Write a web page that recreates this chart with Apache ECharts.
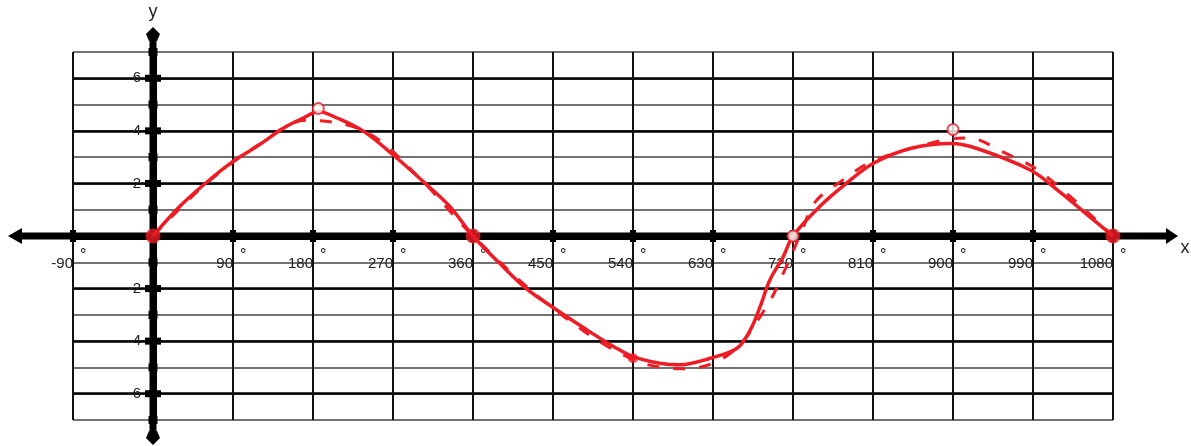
<!DOCTYPE html>
<html>
<head>
<meta charset="utf-8">
<script src="https://cdn.jsdelivr.net/npm/echarts@6/dist/echarts.min.js"></script>
<style>
html,body{margin:0;padding:0;background:#fff;}
#chart{width:1191px;height:446px;}
</style>
</head>
<body>
<div id="chart"></div>
<script>
// ---- data ----
const xTickLabels = ['-90','90','180','270','360','450','540','630','720','810','900','990','1080'];
const yTickLabels = ['-6','-4','-2','2','4','6'];

// solid hand-drawn curve
const curveX = [0,30,57,90,117,147,169,186,207,237,270,304,334,360,390,420,450,488,518,540,570,593,627,657,672,683,694,709,720,750,780,810,852,898,927,987,1020,1054,1080];
const curveY = [0,1.12,1.95,2.84,3.41,4.11,4.49,4.74,4.49,3.98,3.09,2.07,1.12,0,-1.04,-2.0,-2.72,-3.57,-4.2,-4.59,-4.84,-4.9,-4.65,-4.27,-3.57,-2.69,-1.67,-0.79,0,1.12,2.0,2.76,3.33,3.52,3.33,2.51,1.68,0.73,0];

// dashed sketch curve
const dashX = [0,60,120,172,240,300,360,450,540,600,650,690,712,730,745,775,810,885,917,956,1000,1080];
const dashY = [0,2.0,3.5,4.4,3.95,2.2,0,-2.75,-4.7,-5.05,-4.45,-2.7,-1.2,0.2,1.3,2.1,2.85,3.62,3.73,3.2,2.4,0];

// markers
const dotX = [0,360,1080];
const dotY = [0,0,0];
const ringX = [186,720,900];
const ringY = [4.85,0,4.05];
const smallX = [540];
const smallY = [-4.65];

const zip = (a,b)=>a.map((v,i)=>[v,b[i]]);
const RED = '#ee1c25';
const FONT = "'Liberation Sans',Arial,sans-serif";
const GRID_H = 368, GRID_W = 1040;
const X_MIN = -90, X_MAX = 1080;

const chart = echarts.init(document.getElementById('chart'));
const option = {
  animation:false,
  backgroundColor:'#fff',
  grid:[
    {left:73,right:78,top:52,bottom:26,containLabel:false,outerBoundsMode:'none'},
    {left:73,right:78,top:52+GRID_H/14,bottom:26+GRID_H/14,containLabel:false,outerBoundsMode:'none'}
  ],
  xAxis:[
    {gridIndex:0,type:'value',min:X_MIN,max:X_MAX,interval:90,position:'bottom',offset:-GRID_H/2,
     axisLine:{onZero:false,lineStyle:{color:'#000',width:7}},
     axisTick:{show:false},
     splitLine:{show:true,lineStyle:{color:'#111',width:2}},
     axisLabel:{margin:20,align:'right',fontSize:15,color:'#222',fontFamily:FONT,
       formatter:v=>xTickLabels.includes(String(v))?String(v):''}
    },
    {gridIndex:1,type:'value',min:X_MIN,max:X_MAX,interval:90,position:'bottom',offset:-(GRID_H-2*GRID_H/14)/2,
     axisLine:{show:false,onZero:false},axisTick:{show:false},splitLine:{show:false},
     axisLabel:{margin:12,align:'left',padding:[0,0,0,7],fontSize:16,color:'#222',fontFamily:FONT,
       formatter:v=>xTickLabels.includes(String(v))?'°':''}
    }
  ],
  yAxis:[
    {gridIndex:0,type:'value',min:-7,max:7,interval:1,position:'left',offset:-GRID_W*(0-X_MIN)/(X_MAX-X_MIN),
     axisLine:{onZero:false,lineStyle:{color:'#000',width:7}},
     axisTick:{show:false},
     splitLine:{show:true,lineStyle:{color:'#444',width:1.5}},
     axisLabel:{margin:12,fontSize:15,color:'#222',fontFamily:FONT,
       formatter:v=>yTickLabels.includes(String(v))?String(v):''}
    },
    {gridIndex:1,type:'value',min:-6,max:6,interval:2,
     axisLine:{show:false,onZero:false},axisTick:{show:false},axisLabel:{show:false},
     splitLine:{show:true,lineStyle:{color:'#000',width:2.5}}}
  ],
  series:[
    {type:'line',xAxisIndex:0,yAxisIndex:0,data:zip(dashX,dashY),smooth:0.35,symbol:'none',z:9,
     lineStyle:{color:RED,width:3,type:[12,14]}},
    {type:'line',xAxisIndex:0,yAxisIndex:0,data:zip(curveX,curveY),smooth:0.35,symbol:'none',z:10,
     lineStyle:{color:RED,width:3.5}},
    {type:'scatter',xAxisIndex:0,yAxisIndex:0,data:zip(dotX,dotY),symbolSize:15,z:11,
     itemStyle:{color:RED}},
    {type:'scatter',xAxisIndex:0,yAxisIndex:0,data:zip(ringX,ringY),symbol:'emptyCircle',symbolSize:11,z:11,
     itemStyle:{color:RED,borderColor:RED,borderWidth:4}},
    {type:'scatter',xAxisIndex:0,yAxisIndex:0,data:zip(smallX,smallY),symbolSize:10,z:11,
     itemStyle:{color:RED}}
  ]
};
chart.setOption(option);

// ---- axis decorations (arrows, tick blocks, names) ----
const P = (x,y)=>chart.convertToPixel({gridIndex:0},[x,y]);
const o = P(0,0);
const g = [];
const LEFT_TIP = 8, RIGHT_TIP = 1178, TOP_TIP = 27, BOT_TIP = 445;
g.push({type:'line',z:5,shape:{x1:LEFT_TIP+10,y1:o[1],x2:RIGHT_TIP-8,y2:o[1]},style:{stroke:'#000',lineWidth:7}});
g.push({type:'polygon',z:5,shape:{points:[[LEFT_TIP,o[1]],[LEFT_TIP+14,o[1]-8],[LEFT_TIP+14,o[1]+8]]},style:{fill:'#000'}});
g.push({type:'polygon',z:5,shape:{points:[[RIGHT_TIP,o[1]],[RIGHT_TIP-12,o[1]-8],[RIGHT_TIP-12,o[1]+8]]},style:{fill:'#000'}});
g.push({type:'line',z:5,shape:{x1:o[0],y1:TOP_TIP+8,x2:o[0],y2:BOT_TIP-8},style:{stroke:'#000',lineWidth:7}});
g.push({type:'polygon',z:5,shape:{points:[[o[0],TOP_TIP],[o[0]+7,TOP_TIP+7],[o[0]+4,TOP_TIP+14],[o[0]-4,TOP_TIP+14],[o[0]-7,TOP_TIP+7]]},style:{fill:'#000'}});
g.push({type:'polygon',z:5,shape:{points:[[o[0],BOT_TIP],[o[0]+7,BOT_TIP-7],[o[0]+4,BOT_TIP-14],[o[0]-4,BOT_TIP-14],[o[0]-7,BOT_TIP-7]]},style:{fill:'#000'}});
xTickLabels.forEach(t=>{
  const p = P(Number(t),0);
  g.push({type:'rect',z:5,shape:{x:p[0]-3,y:p[1]-6,width:6,height:12},style:{fill:'#000'}});
});
for(let v=-7; v<=7; v++){
  if(v===0) continue;
  const p = P(0,v);
  if(v%2===0) g.push({type:'rect',z:5,shape:{x:p[0]-8,y:p[1]-3.5,width:16,height:7},style:{fill:'#000'}});
  else g.push({type:'rect',z:5,shape:{x:p[0]-4.5,y:p[1]-4,width:9,height:8},style:{fill:'#000'}});
}
g.push({type:'text',z:5,x:RIGHT_TIP+7,y:o[1]+12,style:{text:'x',fill:'#222',font:"18px "+FONT,textAlign:'center',textVerticalAlign:'middle'}});
g.push({type:'text',z:5,x:o[0],y:12,style:{text:'y',fill:'#222',font:"18px "+FONT,textAlign:'center',textVerticalAlign:'middle'}});
chart.setOption({graphic:g});
</script>
</body>
</html>
